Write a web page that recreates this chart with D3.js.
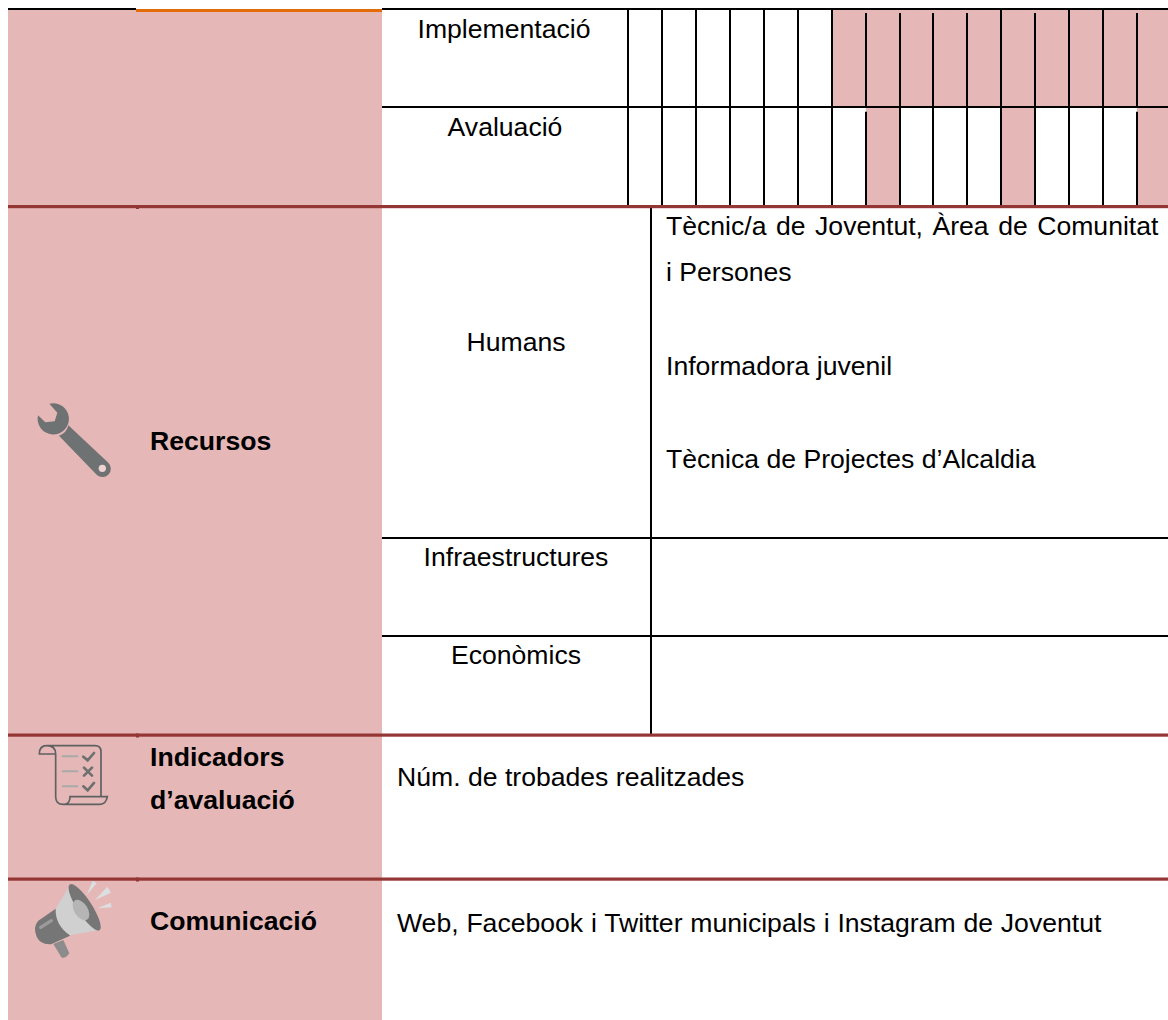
<!DOCTYPE html>
<html>
<head>
<meta charset="utf-8">
<script src="https://cdn.jsdelivr.net/npm/d3@7"></script>
<style>
  body { margin: 0; background: #fff; }
  text { font-family: "Liberation Sans", Arial, sans-serif; font-size: 26.6px; fill: #000; }
  .bold { font-weight: bold; }
</style>
</head>
<body>
<div id="chart"></div>
<script>
// data
var months = [1, 2, 3, 4, 5, 6, 7, 8, 9, 10, 11, 12, 13, 14, 15, 16];
var scheduleRows = ["Implementació", "Avaluació"];
var implementacio = [0, 0, 0, 0, 0, 0, 1, 1, 1, 1, 1, 1, 1, 1, 1, 1];
var avaluacio = [0, 0, 0, 0, 0, 0, 0, 1, 0, 0, 0, 1, 0, 0, 0, 1];
var recursosRows = ["Humans", "Infraestructures", "Econòmics"];
var humansLines = ["Tècnic/a de Joventut, Àrea de Comunitat", "i Persones", "Informadora juvenil", "Tècnica de Projectes d’Alcaldia"];
var sectionTitles = ["Recursos", "Indicadors", "d’avaluació", "Comunicació"];
var indicadors = "Núm. de trobades realitzades";
var comunicacio = "Web, Facebook i Twitter municipals i Instagram de Joventut";

// layout
var width = 1168;
var height = 1020;
var pink = "#e5b8b7";
var maroon = "#943634";
var orange = "#e36c0a";

var svg = d3.select("#chart").append("svg")
  .attr("width", width)
  .attr("height", height)
  .style("display", "block");

var x = d3.scaleBand().domain(months).range([628, 1171]);
var y = d3.scaleBand().domain(scheduleRows).range([9, 206.5]);
var series = [implementacio, avaluacio];

// left band
svg.append("rect").attr("x", 8).attr("y", 9).attr("width", 374).attr("height", height - 9).style("fill", pink);

// shaded months
scheduleRows.forEach(function(row, r) {
  svg.selectAll(".cell-" + r)
    .data(months.filter(function(m, i) { return series[r][i] === 1; }))
    .enter().append("rect")
    .attr("class", "cell-" + r)
    .attr("x", function(d) { return Math.round(x(d)); })
    .attr("y", y(row))
    .attr("width", function(d) { return Math.round(x(d) + x.bandwidth()) - Math.round(x(d)); })
    .attr("height", y.bandwidth())
    .style("fill", pink);
});

// month lines, a few of them start lower like in the source document
var lateStart = [[8, 9, 10, 11, 13, 16], [8, 16]];
scheduleRows.forEach(function(row, r) {
  svg.selectAll(".month-line-" + r)
    .data(months)
    .enter().append("rect")
    .attr("class", "month-line-" + r)
    .attr("x", function(d) { return Math.round(x(d)) - 1; })
    .attr("y", function(d) { return y(row) + (lateStart[r].indexOf(d) >= 0 ? 4 : 0); })
    .attr("width", 2)
    .attr("height", function(d) { return y.bandwidth() - (lateStart[r].indexOf(d) >= 0 ? 4 : 0); })
    .style("fill", "#000");
});

function hline(x0, x1, y0, h, color) {
  svg.append("rect").attr("x", x0).attr("y", y0).attr("width", x1 - x0).attr("height", h).style("fill", color);
}

// black rules
hline(8, 136, 8, 2, "#000");
hline(136, 382, 9, 3, orange);
hline(382, width, 8, 2, "#000");
hline(382, width, 106, 2, "#000");
hline(382, width, 537, 2, "#000");
hline(382, width, 635, 2, "#000");
svg.append("rect").attr("x", 650).attr("y", 208).attr("width", 2).attr("height", 526).style("fill", "#000");

// maroon section rules
[205, 733.5, 877.5].forEach(function(yy) {
  hline(8, width, yy, 3.2, maroon);
  hline(136, 139, yy, 4, maroon);
});

// texts
function label(str, xx, yy, anchor, cls) {
  return svg.append("text").attr("x", xx).attr("y", yy)
    .attr("text-anchor", anchor || "start")
    .attr("class", cls || null)
    .text(str);
}
label(scheduleRows[0], 504, 38, "middle");
label(scheduleRows[1], 505, 136, "middle");
label(recursosRows[0], 516, 351, "middle");
label(recursosRows[1], 516, 566, "middle");
label(recursosRows[2], 516, 664, "middle");
label(humansLines[0], 666, 235).style("word-spacing", "2.1px");
label(humansLines[1], 666, 281);
label(humansLines[2], 666, 375);
label(humansLines[3], 666, 468);
label(sectionTitles[0], 150, 450, null, "bold");
label(sectionTitles[1], 150, 766, null, "bold");
label(sectionTitles[2], 150, 809, null, "bold");
label(sectionTitles[3], 150, 930, null, "bold");
label(indicadors, 397, 786);
label(comunicacio, 397, 932).style("word-spacing", "0.4px");

// wrench icon
var wrench = svg.append("g").attr("transform", "translate(20,390) scale(0.3333)");
wrench.append("path")
  .attr("d", "M88,41 A47,47 0 1 1 54,76 L76,97 L104,94 L112,68 Z")
  .style("fill", "#6f7273");
wrench.append("path")
  .attr("d", "M145,106 L265,218 A25,25 0 0 1 230,254 L117,137 A42,42 0 0 0 145,106 Z")
  .style("fill", "#6f7273");
wrench.append("circle").attr("cx", 247).attr("cy", 235).attr("r", 11).style("fill", "#eed3d2");

// checklist icon
var list = svg.append("g").attr("transform", "translate(20,725) scale(0.3333)")
  .style("fill", "none").style("stroke-linecap", "round");
list.append("path")
  .attr("d", "M80,62 L225,62 Q243,62 243,80 L243,215 M107,87 L107,215 Q107,238 130,238 Q150,238 150,215 L262,215 Q258,238 240,238 L130,238 M107,87 L58,87 Q58,62 80,62 Q107,62 107,87")
  .style("stroke", "#5f6062").style("stroke-width", 5);
list.append("path")
  .attr("d", "M128,94 L172,94 M128,139 L172,139 M128,184 L172,184")
  .style("stroke", "#a8a9a9").style("stroke-width", 6);
list.append("path")
  .attr("d", "M190,95 L203,106 L222,84 M192,128 L216,152 M216,128 L192,152 M190,184 L203,196 L222,174")
  .style("stroke", "#6e7070").style("stroke-width", 8);

// megaphone icon
var mega = svg.append("g").attr("transform", "translate(20,870) scale(0.3333)");
mega.append("path").attr("d", "M100,222 L124,262 Q135,268 148,250 L130,210 Z").style("fill", "#8c8c8c");
mega.append("path").attr("d", "M107,116 L55,152 Q38,170 50,200 Q62,226 95,222 L150,197 Z").style("fill", "#767676");
mega.append("path").attr("d", "M62,172 L94,152").style("stroke", "#9b9b9b").style("stroke-width", 10).style("stroke-linecap", "round");
mega.append("path").attr("d", "M150,45 L238,180 L150,196 Q105,165 107,116 Z").style("fill", "#d0d0d0");
mega.append("ellipse").attr("cx", 194).attr("cy", 112).attr("rx", 82).attr("ry", 22)
  .attr("transform", "rotate(57 194 112)").style("fill", "#767676");
mega.append("ellipse").attr("cx", 183).attr("cy", 120).attr("rx", 34).attr("ry", 20)
  .attr("transform", "rotate(57 183 120)").style("fill", "#b5b5b5");
mega.append("path").attr("d", "M200,75 L218,32 L230,40 Z M225,90 L262,50 L273,68 Z M232,115 L272,98 L275,112 Z").style("fill", "#dcdfdf");
</script>
</body>
</html>
